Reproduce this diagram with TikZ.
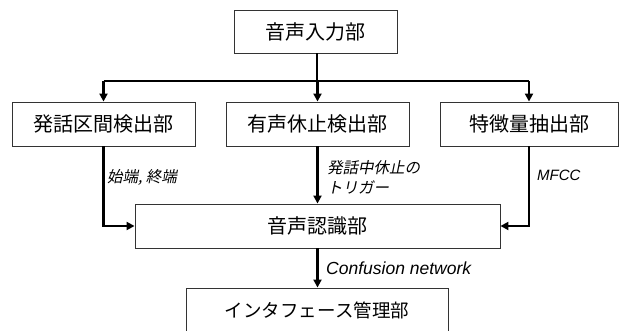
\documentclass[tikz,border=0pt]{standalone}
\usepackage{fontspec}
\setmainfont{Liberation Sans}
\newfontfamily\jp{Noto Sans CJK JP}
\newfontfamily\jpit[FakeSlant=0.2]{Noto Sans CJK JP}
\usetikzlibrary{arrows.meta}
\begin{document}
\begin{tikzpicture}[x=1pt,y=-1pt,
  box/.style={draw=black!80, line width=0.9pt, inner sep=0pt, font=\jp\fontsize{20}{24}\selectfont},
  conn/.style={line width=2.4pt},
  arr/.style={conn, -{Triangle[width=8pt,length=8pt]}},
  lbl/.style={anchor=west, inner sep=0pt, font=\jpit\fontsize{15.5}{18}\selectfont},
  lbllat/.style={anchor=west, inner sep=0pt, font=\itshape\fontsize{15}{18}\selectfont}]
\useasboundingbox (0,0) rectangle (619,331);
\clip (0,0) rectangle (619,331);
\node[box, minimum width=163pt, minimum height=43pt] (in) at (315.5,31.5) {音声入力部};
\node[box, minimum width=183pt, minimum height=44pt] (vad) at (103.5,124) {発話区間検出部};
\node[box, minimum width=183pt, minimum height=44pt] (pause) at (317.5,124) {有声休止検出部};
\node[box, minimum width=178pt, minimum height=44pt] (feat) at (529,124) {特徴量抽出部};
\node[box, minimum width=365pt, minimum height=44pt] (asr) at (317.5,226) {音声認識部};
\node[box, minimum width=262pt, minimum height=45pt, font=\jp\fontsize{18.5}{22}\selectfont] (ui) at (317,310.5) {インタフェース管理部};
\coordinate (bar) at (317,81);
\draw[conn] (in.south -| bar) -- (bar);
\draw[conn] (vad.north |- bar) -- (feat.north |- bar);
\draw[arr] (vad.north |- bar) -- (vad.north);
\draw[arr] (pause.north |- bar) -- (pause.north);
\draw[arr] (feat.north |- bar) -- (feat.north);
\draw[arr] (vad.south) |- (asr.west);
\draw[arr] (feat.south) |- (asr.east);
\draw[arr] (pause.south) -- (pause.south |- asr.north);
\draw[arr] (asr.south) -- (asr.south |- ui.north);
\node[lbl] (l1) at (107,177) {始端, 終端};
\node[lbl] (l2) at (327,168) {発話中休止の};
\node[lbl] (l3) at (327,187) {トリガー};
\node[lbllat] (l4) at (537,175) {MFCC};
\node[lbllat, font=\itshape\fontsize{17.5}{20}\selectfont] (l5) at (326,268) {Confusion network};
\end{tikzpicture}
\end{document}
